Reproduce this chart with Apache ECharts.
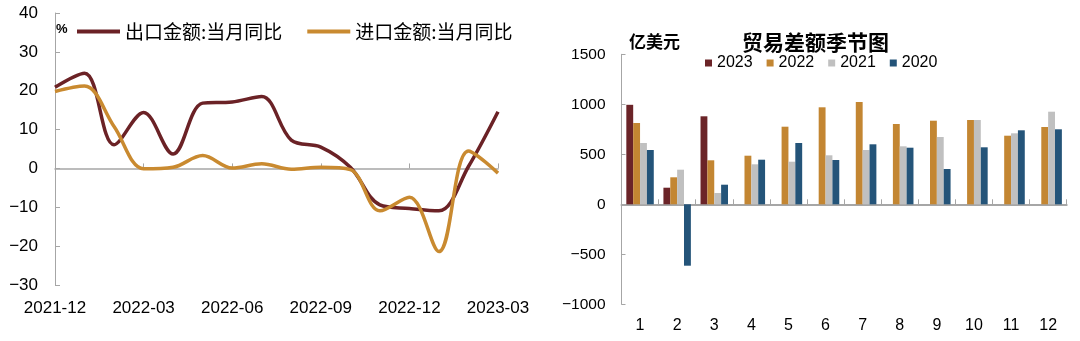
<!DOCTYPE html>
<html>
<head>
<meta charset="utf-8">
<script src="https://cdn.jsdelivr.net/npm/echarts@6/dist/echarts.min.js"></script>
<style>
html,body{margin:0;padding:0;background:#fff;}
#c{width:1080px;height:341px;}
</style>
</head>
<body>
<div id="c"></div>
<script>
// ---- Left chart data ----
var months = ['2021-12','2022-01','2022-02','2022-03','2022-04','2022-05','2022-06','2022-07','2022-08','2022-09','2022-10','2022-11','2022-12','2023-01','2023-02','2023-03'];
var exportYoY = [20.9, 24.5, 6.1, 14.4, 3.7, 16.8, 17.1, 18.5, 7.3, 5.5, 0.3, -9.4, -10.3, -10.9, 0.5, 14.6];
var importYoY = [19.8, 21.2, 10.8, -0.1, 0.3, 3.3, 0.1, 1.2, -0.2, 0.3, -0.3, -10.9, -7.4, -21.4, 4.5, -1.2];
var leftNames = ['出口金额:当月同比', '进口金额:当月同比'];

// ---- Right chart data ----
var monthNums = ['1','2','3','4','5','6','7','8','9','10','11','12'];
var years = ['2023','2022','2021','2020'];
var bal2023 = [995, 166, 880, null, null, null, null, null, null, null, null, null];
var bal2022 = [813, 270, 440, 486, 776, 970, 1023, 803, 836, 843, 686, 773];
var bal2021 = [613, 346, 113, 400, 426, 490, 543, 580, 673, 843, 710, 926];
var bal2020 = [543, -614, 196, 446, 613, 443, 600, 566, 353, 570, 740, 750];

var FONT = "'Liberation Sans', Arial, 'Noto Sans CJK SC', sans-serif";
var CJK = "'Noto Sans CJK SC', 'Liberation Sans', sans-serif";
var AX = '#A6A6A6';
function minus(v){ return String(v).replace('-', '\u2212'); }

var chart = echarts.init(document.getElementById('c'), null, {renderer:'canvas'});
var option = {
  animation: false,
  backgroundColor: '#fff',
  textStyle: {fontFamily: FONT},
  title: {
    text: '贸易差额季节图', left: 742, top: 32, padding: 0,
    textStyle: {fontFamily: CJK, fontSize: 21, fontWeight: 'bold', color: '#000'}
  },
  graphic: [
    {type:'text', left: 56, top: 23, style:{text:'%', font:"bold 13px 'Liberation Sans'", fill:'#000'}},
    {type:'text', left: 629, top: 33, style:{text:'亿美元', font:"bold 17px 'Noto Sans CJK SC'", fill:'#000'}}
  ],
  legend: [
    {
      data: leftNames, left: 77, top: 22, padding: 0, itemGap: 25,
      icon: 'rect', itemWidth: 43, itemHeight: 4,
      textStyle: {fontFamily: CJK, fontSize: 19, color: '#000'}
    },
    {
      data: years, left: 705, top: 55, padding: 0, itemGap: 14,
      icon: 'rect', itemWidth: 7, itemHeight: 7,
      textStyle: {fontFamily: FONT, fontSize: 16, color: '#000'}
    }
  ],
  grid: [
    {left: 55, top: 13, width: 443, height: 272},
    {left: 621.5, top: 54.3, width: 445.2, height: 250}
  ],
  xAxis: [
    {gridIndex:0, type:'category', data: months, boundaryGap:false, position:'bottom',
     axisLine:{show:false, onZero:false}, axisTick:{show:false},
     axisLabel:{interval:2, margin:15, fontSize:17, color:'#000', fontFamily: FONT}},
    {gridIndex:0, type:'category', data: months, boundaryGap:false, position:'top',
     axisLine:{show:true, onZero:true, lineStyle:{color:AX, width:1.5}},
     axisTick:{show:true, inside:false, length:5, interval:2, lineStyle:{color:AX}},
     axisLabel:{show:false}},
    {gridIndex:1, type:'category', data: monthNums, position:'bottom',
     axisLine:{show:false, onZero:false}, axisTick:{show:false},
     axisLabel:{margin:13, fontSize:16, color:'#000', fontFamily: FONT}},
    {gridIndex:1, type:'category', data: monthNums, position:'top',
     axisLine:{show:true, onZero:true, lineStyle:{color:AX, width:2}},
     axisTick:{show:true, inside:false, length:5, lineStyle:{color:AX}},
     axisLabel:{show:false}}
  ],
  yAxis: [
    {gridIndex:0, type:'value', min:-30, max:40, interval:10,
     axisLine:{show:true, onZero:false, lineStyle:{color:AX, width:1}},
     axisTick:{show:true, inside:true, length:5, lineStyle:{color:AX}},
     splitLine:{show:false},
     axisLabel:{margin:17, fontSize:17, color:'#000', fontFamily: FONT, formatter: minus}},
    {gridIndex:1, type:'value', min:-1000, max:1500, interval:500,
     axisLine:{show:true, onZero:false, lineStyle:{color:AX, width:1}},
     axisTick:{show:true, inside:true, length:4, lineStyle:{color:AX}},
     splitLine:{show:false},
     axisLabel:{margin:16, fontSize:15.5, color:'#000', fontFamily: FONT, formatter: minus}}
  ],
  series: [
    {name: leftNames[0], type:'line', xAxisIndex:0, yAxisIndex:0, data: exportYoY,
     smooth: 0.35, symbol:'none', color:'#6B2226', lineStyle:{width:3.5, color:'#6B2226'}},
    {name: leftNames[1], type:'line', xAxisIndex:0, yAxisIndex:0, data: importYoY,
     smooth: 0.35, symbol:'none', color:'#C98A30', lineStyle:{width:3.5, color:'#C98A30'}},
    {name: years[0], type:'bar', xAxisIndex:2, yAxisIndex:1, data: bal2023, color:'#6B2428',
     barGap:'0%', barCategoryGap:'26%'},
    {name: years[1], type:'bar', xAxisIndex:2, yAxisIndex:1, data: bal2022, color:'#C38632',
     barGap:'0%', barCategoryGap:'26%'},
    {name: years[2], type:'bar', xAxisIndex:2, yAxisIndex:1, data: bal2021, color:'#C0C0C0',
     barGap:'0%', barCategoryGap:'26%'},
    {name: years[3], type:'bar', xAxisIndex:2, yAxisIndex:1, data: bal2020, color:'#245479',
     barGap:'0%', barCategoryGap:'26%'}
  ]
};
chart.setOption(option);
</script>
</body>
</html>
